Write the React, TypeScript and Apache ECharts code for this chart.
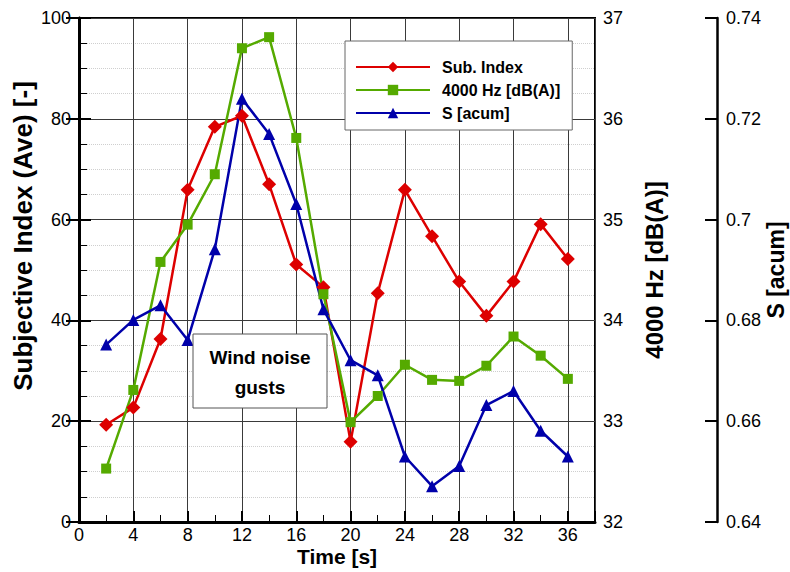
import React, { useEffect, useRef } from "react";
import * as echarts from "echarts";

const time = [2, 4, 6, 8, 10, 12, 14, 16, 18, 20, 22, 24, 26, 28, 30, 32, 34, 36];
const subIndex = [19.3, 22.7, 36.3, 65.9, 78.4, 80.6, 67.0, 51.1, 46.6, 15.9, 45.4, 65.9, 56.7, 47.7, 40.9, 47.7, 59.1, 52.2];
const hz4000 = [32.53, 33.31, 34.58, 34.95, 35.45, 36.7, 36.81, 35.81, 34.26, 32.99, 33.25, 33.56, 33.41, 33.4, 33.55, 33.84, 33.65, 33.42];
const sAcum = [0.6752, 0.6801, 0.683, 0.6761, 0.6941, 0.724, 0.717, 0.7031, 0.6822, 0.6721, 0.6691, 0.653, 0.6471, 0.6511, 0.6632, 0.666, 0.6581, 0.653];

const seriesNames = ["Sub. Index", "4000 Hz [dB(A)]", "S [acum]"];
const FONT = '"Liberation Sans", Arial, Helvetica, sans-serif';

export default function App() {
  const ref = useRef<HTMLDivElement>(null);
  useEffect(() => {
    if (!ref.current) return;
    const chart = echarts.init(ref.current, undefined, { renderer: "svg" });
    const pairs = (ys: number[]) => time.map((t, i) => [t, ys[i]]);
    const labelStyle = { color: "#000", fontSize: 18, fontFamily: FONT, lineHeight: 18 };
    chart.setOption({
      animation: false,
      grid: { left: 79, right: 195, top: 18, bottom: 50, show: true, borderColor: "#000", borderWidth: 2 },
      legend: {
        orient: "vertical",
        left: 345,
        top: 41,
        padding: [18, 12, 9, 10],
        itemWidth: 74,
        itemHeight: 13,
        itemGap: 7,
        backgroundColor: "#fff",
        borderColor: "#666",
        borderWidth: 1,
        textStyle: { fontWeight: "bold", fontSize: 16, color: "#000", fontFamily: FONT, padding: [0, 0, 0, 7] },
        data: seriesNames,
      },
      xAxis: [
        {
          type: "value", min: 0, max: 38, interval: 4, position: "bottom",
          axisLine: { show: true, lineStyle: { color: "#000", width: 3 } },
          axisTick: { inside: true, length: 11, lineStyle: { color: "#000", width: 2 } },
          axisLabel: { ...labelStyle, margin: 4, formatter: (v: number) => (v === 38 ? "" : String(v)) },
          splitLine: { show: true, lineStyle: { color: "#3a3a3a", width: 1 } },
        },
        {
          type: "value", min: 0, max: 38, interval: 2, position: "bottom",
          axisLine: { show: false },
          axisTick: { inside: true, length: 7, lineStyle: { color: "#000", width: 1 } },
          axisLabel: { show: false },
          splitLine: { show: false },
        },
      ],
      yAxis: [
        {
          type: "value", min: 0, max: 100, interval: 20, position: "left",
          axisLine: { show: true, lineStyle: { color: "#000", width: 3 } },
          axisTick: { inside: true, length: 12, lineStyle: { color: "#000", width: 2 } },
          minorTick: { show: true, splitNumber: 4, length: 8, lineStyle: { color: "#000", width: 1 } },
          minorSplitLine: { show: true, lineStyle: { color: "#cfcfcf", type: "dotted", width: 1 } },
          splitLine: { show: true, lineStyle: { color: "#3a3a3a", width: 1 } },
          axisLabel: { ...labelStyle, margin: 8 },
        },
        {
          type: "value", min: 32, max: 37, interval: 1, position: "right",
          axisLine: { show: true, lineStyle: { color: "#000", width: 2.5 } },
          axisTick: { inside: true, length: 13, lineStyle: { color: "#000", width: 2 } },
          splitLine: { show: false },
          axisLabel: { ...labelStyle, margin: 8 },
        },
        {
          type: "value", min: 0.64, max: 0.74, interval: 0.02, position: "right", offset: 122,
          axisLine: { show: true, lineStyle: { color: "#000", width: 2.5 } },
          axisTick: { inside: true, length: 12, lineStyle: { color: "#000", width: 2 } },
          splitLine: { show: false },
          axisLabel: { ...labelStyle, margin: 9 },
        },
      ],
      series: [
        {
          name: seriesNames[0], type: "line", yAxisIndex: 0, xAxisIndex: 0, data: pairs(subIndex),
          symbol: "diamond", symbolSize: 14, color: "#dd0000",
          lineStyle: { width: 2.5, color: "#dd0000" }, itemStyle: { color: "#dd0000" },
        },
        {
          name: seriesNames[1], type: "line", yAxisIndex: 1, xAxisIndex: 0, data: pairs(hz4000),
          symbol: "rect", symbolSize: 10, color: "#55aa00",
          lineStyle: { width: 2.5, color: "#55aa00" }, itemStyle: { color: "#55aa00" },
        },
        {
          name: seriesNames[2], type: "line", yAxisIndex: 2, xAxisIndex: 0, data: pairs(sAcum),
          symbol: "triangle", symbolSize: 12, color: "#0000aa",
          lineStyle: { width: 2.5, color: "#0000aa" }, itemStyle: { color: "#0000aa" },
        },
      ],
      graphic: [
        {
          type: "text", x: 23, y: 236, rotation: Math.PI / 2, z: 10,
          style: { text: "Subjective Index (Ave) [-]", font: `bold 26px ${FONT}`, fill: "#000", textAlign: "center", textVerticalAlign: "middle" },
        },
        {
          type: "text", x: 337, y: 556, z: 10,
          style: { text: "Time [s]", font: `bold 21px ${FONT}`, lineHeight: 20, fill: "#000", textAlign: "center", textVerticalAlign: "middle" },
        },
        {
          type: "text", x: 654, y: 270, rotation: Math.PI / 2, z: 10,
          style: { text: "4000 Hz [dB(A)]", font: `bold 24px ${FONT}`, fill: "#000", textAlign: "center", textVerticalAlign: "middle" },
        },
        {
          type: "text", x: 776, y: 270, rotation: Math.PI / 2, z: 10,
          style: { text: "S [acum]", font: `bold 23px ${FONT}`, fill: "#000", textAlign: "center", textVerticalAlign: "middle" },
        },
        {
          type: "rect", z: 10, shape: { x: 193, y: 334, width: 134, height: 74 },
          style: { fill: "#fff", stroke: "#555", lineWidth: 1 },
        },
        {
          type: "text", x: 260, y: 372, z: 11,
          style: { text: "Wind noise\ngusts", font: `bold 19px ${FONT}`, lineHeight: 30, fill: "#000", textAlign: "center", textVerticalAlign: "middle" },
        },
      ],
    });
    return () => chart.dispose();
  }, []);
  return <div ref={ref} style={{ position: "absolute", left: 0, top: 0, width: 790, height: 572 }} />;
}
